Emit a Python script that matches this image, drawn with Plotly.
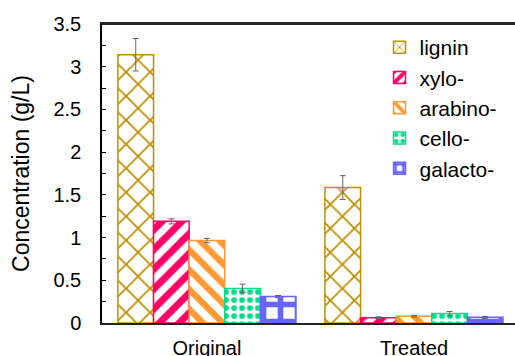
import plotly.graph_objects as go

categories = ["Original", "Treated"]
series_names = ["lignin", "xylo-", "arabino-", "cello-", "galacto-"]
values = {
    "lignin": [3.14, 1.585],
    "xylo-": [1.19, 0.062],
    "arabino-": [0.965, 0.08],
    "cello-": [0.405, 0.11],
    "galacto-": [0.31, 0.067],
}
errors = {
    "lignin": [0.19, 0.14],
    "xylo-": [0.03, 0.01],
    "arabino-": [0.025, 0.01],
    "cello-": [0.05, 0.025],
    "galacto-": [0.012, 0.008],
}
colors = ["#BF9000", "#FF0066", "#FF9933", "#00DD88", "#6666FF"]
shapes = ["x", "/", "\\", ".", "+"]
sizes = [17, 14, 14, 8, 17]
solid = [0.2, 0.5, 0.45, 0.4, 0.55]

fig = go.Figure()
for i, name in enumerate(series_names):
    fig.add_trace(go.Bar(
        name=name,
        x=categories,
        y=values[name],
        legendgroup=name,
        marker=dict(
            color=colors[i],
            line=dict(color=colors[i], width=1.5),
            pattern=dict(shape=shapes[i], fgcolor=colors[i], bgcolor="white",
                         fillmode="replace", size=sizes[i], solidity=solid[i]),
        ),
        error_y=dict(type="data", array=errors[name], color="#666666",
                     thickness=1, width=3),
    ))

fig.update_layout(
    width=515, height=356,
    margin=dict(l=102, r=0, t=24, b=33),
    paper_bgcolor="white", plot_bgcolor="white",
    barmode="group", bargap=0.14, bargroupgap=0,
    font=dict(family="Liberation Sans, Arial, sans-serif", color="black"),
    showlegend=True,
    legend=dict(x=0.672, y=0.99, xanchor="left", yanchor="top",
                font=dict(size=21), bgcolor="rgba(0,0,0,0)",
                tracegroupgap=0, itemwidth=30),
    shapes=[dict(type="line", xref="paper", yref="paper", x0=0, x1=1, y0=1, y1=1,
                 line=dict(color="#222222", width=2))],
)
fig.update_xaxes(
    range=[-0.507, 1.488],
    showline=True, linecolor="#222222", linewidth=2, mirror="all",
    ticks="", tickfont=dict(size=20), showgrid=False,
    automargin=False, ticklabelstandoff=6,
)
fig.update_yaxes(
    range=[0, 3.5], dtick=0.5, showline=True, linecolor="black", linewidth=1.5,
    ticks="inside", ticklen=4, tickcolor="black", tickfont=dict(size=20),
    tickformat="~g", showgrid=False, zeroline=False,
    minor=dict(dtick=0.25, ticks="inside", ticklen=4, tickcolor="black"),
    title=dict(text="Concentration (g/L)", font=dict(size=23), standoff=17),
    automargin=False, ticklabelstandoff=15,
)

fig.write_html("out.html", config={"displayModeBar": False},
               post_script="document.body.style.margin='0';")
